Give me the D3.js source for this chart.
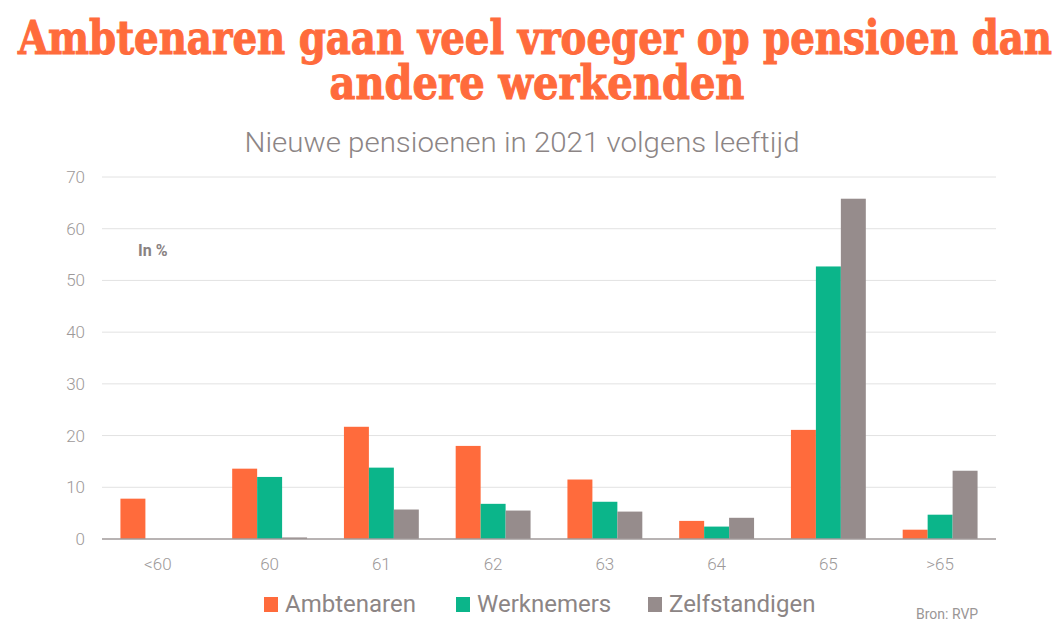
<!DOCTYPE html>
<html>
<head>
<meta charset="utf-8">
<script src="https://cdn.jsdelivr.net/npm/d3@7"></script>
<style>
  body { margin: 0; background: #fff; }
  text { font-family: Roboto, "Open Sans", sans-serif; }
</style>
</head>
<body>
<div id="vis"></div>
<script>
// waarden (in %)
var categories = ["<60", "60", "61", "62", "63", "64", "65", ">65"],
    seriesNames = ["Ambtenaren", "Werknemers", "Zelfstandigen"],
    ambtenaren = [7.8, 13.6, 21.7, 18.0, 11.5, 3.5, 21.1, 1.8],
    werknemers = [0, 12.0, 13.8, 6.8, 7.2, 2.4, 52.7, 4.7],
    zelfstandigen = [0, 0.3, 5.7, 5.5, 5.3, 4.1, 65.8, 13.2],
    yTicks = [0, 10, 20, 30, 40, 50, 60, 70];

var colors = ["#ff6b3c", "#0bb58a", "#968c8c"],
    w = 1063,
    h = 637,
    plotLeft = 102,
    plotRight = 996,
    plotTop = 177,
    plotBottom = 539;

var values = [ambtenaren, werknemers, zelfstandigen];

var svg = d3.select("#vis")
    .append("svg")
    .attr("width", w)
    .attr("height", h);

var x0 = d3.scaleBand().domain(categories).range([plotLeft, plotRight])
    .paddingInner(0.33).paddingOuter(0.165);
var x1 = d3.scaleBand().domain(seriesNames).range([0, x0.bandwidth()]);
var y = d3.scaleLinear().domain([0, 70]).range([plotBottom, plotTop]);

// titel
var titleFont = "'DejaVu Serif Condensed', 'DejaVu Serif', 'Liberation Serif', serif";
svg.append("text")
    .attr("x", 535).attr("y", 54)
    .attr("text-anchor", "middle")
    .attr("fill", "#ff6b3c").attr("stroke", "#ff6b3c").attr("stroke-width", 1)
    .attr("font-weight", "bold")
    .style("font-family", titleFont)
    .attr("font-size", 46)
    .attr("textLength", 1034).attr("lengthAdjust", "spacingAndGlyphs")
    .text("Ambtenaren gaan veel vroeger op pensioen dan");
svg.append("text")
    .attr("x", 537).attr("y", 99)
    .attr("text-anchor", "middle")
    .attr("fill", "#ff6b3c").attr("stroke", "#ff6b3c").attr("stroke-width", 1)
    .attr("font-weight", "bold")
    .style("font-family", titleFont)
    .attr("font-size", 46)
    .attr("textLength", 415).attr("lengthAdjust", "spacingAndGlyphs")
    .text("andere werkenden");

svg.append("text")
    .attr("x", 522).attr("y", 152)
    .attr("text-anchor", "middle")
    .attr("fill", "#8c8585")
    .attr("font-size", 28)
    .attr("font-weight", 300)
    .attr("textLength", 555).attr("lengthAdjust", "spacingAndGlyphs")
    .text("Nieuwe pensioenen in 2021 volgens leeftijd");

// rasterlijnen
svg.append("g")
    .selectAll("line")
    .data(yTicks.filter(function(d) { return d > 0; }))
    .enter().append("line")
    .attr("x1", plotLeft).attr("x2", plotRight)
    .attr("y1", function(d) { return y(d); })
    .attr("y2", function(d) { return y(d); })
    .attr("stroke", "#e2e2e2")
    .attr("stroke-width", 1);

svg.append("g")
    .selectAll("text")
    .data(yTicks)
    .enter().append("text")
    .attr("x", 85)
    .attr("y", function(d) { return y(d); })
    .attr("dy", 6)
    .attr("text-anchor", "end")
    .attr("fill", "#9d9999")
    .attr("font-size", 17)
    .attr("font-weight", 300)
    .text(String);

svg.append("text")
    .attr("x", 138).attr("y", 256)
    .attr("fill", "#8a8282")
    .attr("font-size", 16)
    .attr("font-weight", "bold")
    .text("In %");

// staven
var groups = svg.append("g")
    .selectAll("g")
    .data(categories)
    .enter().append("g")
    .attr("transform", function(d) { return "translate(" + x0(d) + ",0)"; });

groups.selectAll("rect")
    .data(function(d, i) {
        return seriesNames.map(function(s, j) { return { key: s, value: values[j][i], c: j }; });
    })
    .enter().append("rect")
    .attr("x", function(d) { return x1(d.key); })
    .attr("width", x1.bandwidth())
    .attr("y", function(d) { return y(d.value); })
    .attr("height", function(d) { return y(0) - y(d.value); })
    .attr("fill", function(d) { return colors[d.c]; });

// x-as
svg.append("line")
    .attr("x1", plotLeft).attr("x2", plotRight)
    .attr("y1", y(0)).attr("y2", y(0))
    .attr("stroke", "#a09a9a")
    .attr("stroke-width", 1.5);

svg.append("g")
    .selectAll("text")
    .data(categories)
    .enter().append("text")
    .attr("x", function(d) { return x0(d) + x0.bandwidth() / 2; })
    .attr("y", 570)
    .attr("text-anchor", "middle")
    .attr("fill", "#9d9999")
    .attr("font-size", 17)
    .attr("font-weight", 300)
    .text(String);

// legenda
var legendX = [264, 456, 648];
var legend = svg.append("g")
    .selectAll("g")
    .data(seriesNames)
    .enter().append("g")
    .attr("transform", function(d, i) { return "translate(" + legendX[i] + ",0)"; });
legend.append("rect")
    .attr("x", 0).attr("y", 597)
    .attr("width", 14).attr("height", 15)
    .attr("fill", function(d, i) { return colors[i]; });
legend.append("text")
    .attr("x", 21).attr("y", 612)
    .attr("fill", "#8c8585")
    .attr("font-size", 24)
    .text(String);

svg.append("text")
    .attr("x", 916).attr("y", 619)
    .attr("fill", "#9a9696")
    .attr("font-size", 14)
    .text("Bron: RVP");
</script>
</body>
</html>
